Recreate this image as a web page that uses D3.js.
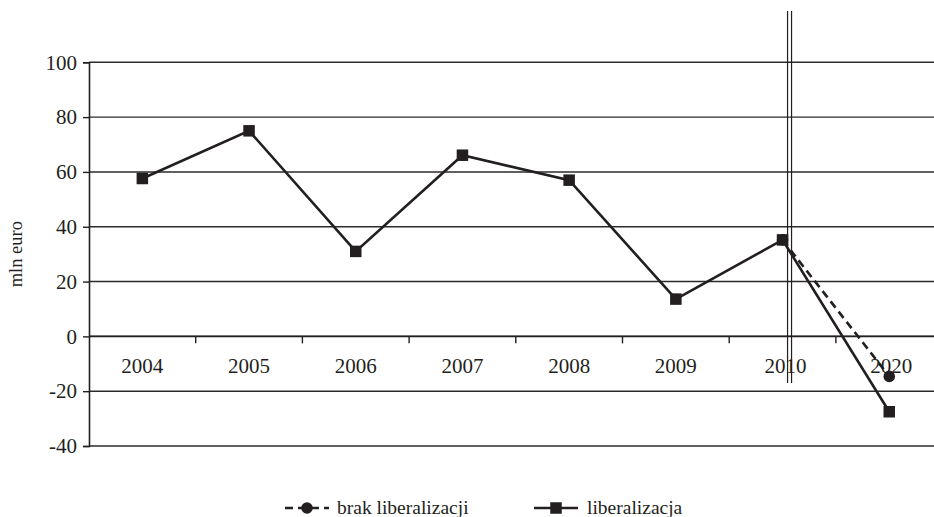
<!DOCTYPE html>
<html>
<head>
<meta charset="utf-8">
<script src="https://cdn.jsdelivr.net/npm/d3@7"></script>
<style>
  html, body { margin: 0; padding: 0; background: #fff; }
  svg { display: block; }
  svg text { font-family: "Liberation Serif", "DejaVu Serif", serif; }
</style>
</head>
<body>
<svg id="chart" width="934" height="517"></svg>
<script>
// Years on the category axis (2020 is a projection after the time break)
const years = ["2004", "2005", "2006", "2007", "2008", "2009", "2010", "2020"];
// Scenario with liberalization (mln euro)
const liberalizacja = [57.6, 75.0, 31.0, 66.1, 57.0, 13.6, 35.2, -27.5];
// Scenario without liberalization: only the 2010 -> 2020 projection
const brakLiberalizacji = [null, null, null, null, null, null, 35.2, -14.6];
// Y axis ticks
const yTicks = [-40, -20, 0, 20, 40, 60, 80, 100];
// Legend entries
const seriesNames = ["brak liberalizacji", "liberalizacja"];
const yAxisTitle = "mln euro";
// The axis break sits just after this category
const breakAfter = "2010";

const ink = "#231f20";
const serif = "'Liberation Serif', 'DejaVu Serif', serif";
const svg = d3.select("#chart");

const left = 89, bandW = 106.7;
const x = d3.scaleBand().domain(years).range([left, left + bandW * years.length]).padding(0);
const y = d3.scaleLinear().domain([-40, 100]).range([446, 62.3]);
const cx = d => x(d) + x.bandwidth() / 2;

// Horizontal gridlines
svg.append("g").selectAll("line").data(yTicks).join("line")
  .attr("x1", left).attr("x2", 934)
  .attr("y1", d => y(d)).attr("y2", d => y(d))
  .attr("stroke", "#2b2b2b").attr("stroke-width", 1.4);

// Y axis
const yAxis = d3.axisLeft(y).tickValues(yTicks).tickSize(6).tickPadding(6).tickFormat(d3.format("d"));
const gy = svg.append("g").attr("transform", `translate(${left},0)`).call(yAxis)
  .attr("font-family", serif);
gy.select(".domain").attr("stroke", ink).attr("stroke-width", 1.6);
gy.selectAll(".tick line").attr("stroke", ink).attr("stroke-width", 1.4);
gy.selectAll(".tick text").attr("font-size", 21).attr("fill", ink)
  .attr("font-family", serif).text(d => d < 0 ? "-" + Math.abs(d) : d);

// Category axis along the zero line, ticks at band boundaries
const gx = svg.append("g").attr("transform", `translate(0,${y(0)})`);
gx.append("line").attr("x1", left).attr("x2", 934).attr("stroke", ink).attr("stroke-width", 1.6);
gx.selectAll("line.tk").data(years.slice(1)).join("line").attr("class", "tk")
  .attr("x1", d => x(d)).attr("x2", d => x(d)).attr("y1", 0).attr("y2", 7)
  .attr("stroke", ink).attr("stroke-width", 1.4);
gx.selectAll("text").data(years).join("text")
  .attr("x", d => cx(d) + (d === "2010" ? 3 : 0) + (d === "2020" ? 2 : 0))
  .attr("y", 37).attr("text-anchor", "middle").attr("font-family", serif)
  .attr("font-size", 21).attr("fill", ink).text(d => d);

// Double vertical line marking the time break
const bx = cx(breakAfter) + 7;
[-2, 2].forEach(off => {
  svg.append("line").attr("x1", bx + off).attr("x2", bx + off)
    .attr("y1", 11).attr("y2", 383).attr("stroke", ink).attr("stroke-width", 1.2);
});

// Y axis title
svg.append("text").attr("transform", `translate(22,${(y(100) + y(-40)) / 2}) rotate(-90)`)
  .attr("text-anchor", "middle").attr("font-family", serif)
  .attr("font-size", 18.5).attr("fill", ink).text(yAxisTitle);

const line = d3.line().defined(d => d.v != null).x(d => cx(d.k)).y(d => y(d.v));
const dataB = years.map((k, i) => ({ k, v: brakLiberalizacji[i] }));
const dataL = years.map((k, i) => ({ k, v: liberalizacja[i] }));

// brak liberalizacji: dashed line with circle markers
svg.append("path").datum(dataB).attr("d", line).attr("fill", "none")
  .attr("stroke", ink).attr("stroke-width", 2.6).attr("stroke-dasharray", "8,5");
svg.append("g").selectAll("circle").data(dataB.filter(d => d.v != null)).join("circle")
  .attr("cx", d => cx(d.k)).attr("cy", d => y(d.v)).attr("r", 5.8).attr("fill", ink);

// liberalizacja: solid line with square markers
svg.append("path").datum(dataL).attr("d", line).attr("fill", "none")
  .attr("stroke", ink).attr("stroke-width", 2.6);
const sq = 11.5;
svg.append("g").selectAll("rect").data(dataL).join("rect")
  .attr("x", d => cx(d.k) - sq / 2).attr("y", d => y(d.v) - sq / 2)
  .attr("width", sq).attr("height", sq).attr("fill", ink);

// Legend
const legend = svg.append("g");
const lg = [
  { name: seriesNames[0], x0: 285, dash: "8,5", marker: "circle", tx: 337 },
  { name: seriesNames[1], x0: 534, dash: null, marker: "square", tx: 587 }
];
const ly = 508;
lg.forEach(item => {
  legend.append("line").attr("x1", item.x0).attr("x2", item.x0 + 44).attr("y1", ly).attr("y2", ly)
    .attr("stroke", ink).attr("stroke-width", 2.6).attr("stroke-dasharray", item.dash);
  if (item.marker === "circle") {
    legend.append("circle").attr("cx", item.x0 + 22).attr("cy", ly).attr("r", 5.8).attr("fill", ink);
  } else {
    legend.append("rect").attr("x", item.x0 + 22 - sq / 2).attr("y", ly - sq / 2)
      .attr("width", sq).attr("height", sq).attr("fill", ink);
  }
  legend.append("text").attr("x", item.tx).attr("y", ly + 6).attr("font-family", serif)
    .attr("font-size", 19.5).attr("fill", ink).text(item.name);
});
</script>
</body>
</html>
